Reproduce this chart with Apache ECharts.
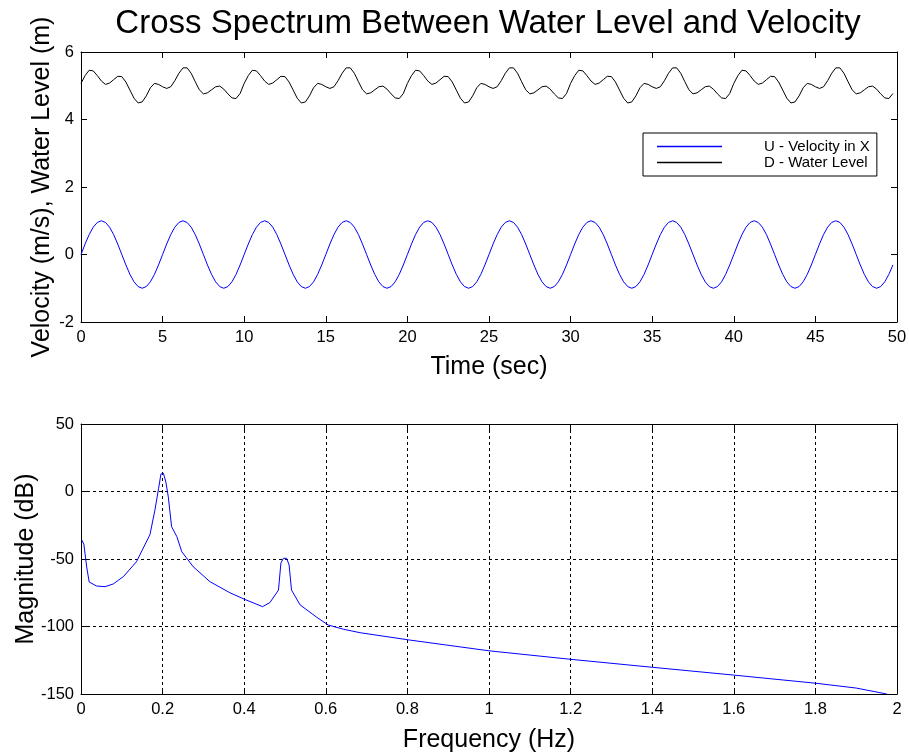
<!DOCTYPE html>
<html><head><meta charset="utf-8">
<script src="https://cdn.jsdelivr.net/npm/echarts@6/dist/echarts.min.js"></script>
<style>html,body{margin:0;padding:0;background:#fff}#c{width:909px;height:753px}</style>
</head><body><div id="c"></div><script>
// Time samples (sec)
const time = [
0,0.25,0.5,0.75,1,1.25,1.5,1.75,2,2.25,2.5,2.75,3,3.25,3.5,3.75,4,4.25,4.5,4.75,
5,5.25,5.5,5.75,6,6.25,6.5,6.75,7,7.25,7.5,7.75,8,8.25,8.5,8.75,9,9.25,9.5,9.75,
10,10.25,10.5,10.75,11,11.25,11.5,11.75,12,12.25,12.5,12.75,13,13.25,13.5,13.75,14,14.25,14.5,14.75,
15,15.25,15.5,15.75,16,16.25,16.5,16.75,17,17.25,17.5,17.75,18,18.25,18.5,18.75,19,19.25,19.5,19.75,
20,20.25,20.5,20.75,21,21.25,21.5,21.75,22,22.25,22.5,22.75,23,23.25,23.5,23.75,24,24.25,24.5,24.75,
25,25.25,25.5,25.75,26,26.25,26.5,26.75,27,27.25,27.5,27.75,28,28.25,28.5,28.75,29,29.25,29.5,29.75,
30,30.25,30.5,30.75,31,31.25,31.5,31.75,32,32.25,32.5,32.75,33,33.25,33.5,33.75,34,34.25,34.5,34.75,
35,35.25,35.5,35.75,36,36.25,36.5,36.75,37,37.25,37.5,37.75,38,38.25,38.5,38.75,39,39.25,39.5,39.75,
40,40.25,40.5,40.75,41,41.25,41.5,41.75,42,42.25,42.5,42.75,43,43.25,43.5,43.75,44,44.25,44.5,44.75,
45,45.25,45.5,45.75,46,46.25,46.5,46.75,47,47.25,47.5,47.75,48,48.25,48.5,48.75,49,49.25,49.5,49.75
];
// U - Velocity in X (m/s)
const velocity = [
0,0.31,0.59,0.81,0.95,1,0.95,0.81,0.59,0.31,0,-0.31,-0.59,-0.81,-0.95,-1,-0.95,-0.81,-0.59,-0.31,
0,0.31,0.59,0.81,0.95,1,0.95,0.81,0.59,0.31,0,-0.31,-0.59,-0.81,-0.95,-1,-0.95,-0.81,-0.59,-0.31,
0,0.31,0.59,0.81,0.95,1,0.95,0.81,0.59,0.31,0,-0.31,-0.59,-0.81,-0.95,-1,-0.95,-0.81,-0.59,-0.31,
0,0.31,0.59,0.81,0.95,1,0.95,0.81,0.59,0.31,0,-0.31,-0.59,-0.81,-0.95,-1,-0.95,-0.81,-0.59,-0.31,
0,0.31,0.59,0.81,0.95,1,0.95,0.81,0.59,0.31,0,-0.31,-0.59,-0.81,-0.95,-1,-0.95,-0.81,-0.59,-0.31,
0,0.31,0.59,0.81,0.95,1,0.95,0.81,0.59,0.31,0,-0.31,-0.59,-0.81,-0.95,-1,-0.95,-0.81,-0.59,-0.31,
0,0.31,0.59,0.81,0.95,1,0.95,0.81,0.59,0.31,0,-0.31,-0.59,-0.81,-0.95,-1,-0.95,-0.81,-0.59,-0.31,
0,0.31,0.59,0.81,0.95,1,0.95,0.81,0.59,0.31,0,-0.31,-0.59,-0.81,-0.95,-1,-0.95,-0.81,-0.59,-0.31,
0,0.31,0.59,0.81,0.95,1,0.95,0.81,0.59,0.31,0,-0.31,-0.59,-0.81,-0.95,-1,-0.95,-0.81,-0.59,-0.31,
0,0.31,0.59,0.81,0.95,1,0.95,0.81,0.59,0.31,0,-0.31,-0.59,-0.81,-0.95,-1,-0.95,-0.81,-0.59,-0.31
];
// D - Water Level (m)
const waterLevel = [
5.07,5.30,5.46,5.44,5.30,5.14,5.04,5.08,5.18,5.28,5.27,5.11,4.87,4.63,4.49,4.52,4.70,4.94,5.07,5.04,
4.97,4.92,4.97,5.15,5.37,5.53,5.53,5.37,5.12,4.88,4.76,4.79,4.88,4.97,4.99,4.90,4.76,4.64,4.62,4.77,
5.07,5.30,5.46,5.44,5.30,5.14,5.04,5.08,5.18,5.28,5.27,5.11,4.87,4.63,4.49,4.52,4.70,4.94,5.07,5.04,
4.97,4.92,4.97,5.15,5.37,5.53,5.53,5.37,5.12,4.88,4.76,4.79,4.88,4.97,4.99,4.90,4.76,4.64,4.62,4.77,
5.07,5.30,5.46,5.44,5.30,5.14,5.04,5.08,5.18,5.28,5.27,5.11,4.87,4.63,4.49,4.52,4.70,4.94,5.07,5.04,
4.97,4.92,4.97,5.15,5.37,5.53,5.53,5.37,5.12,4.88,4.76,4.79,4.88,4.97,4.99,4.90,4.76,4.64,4.62,4.77,
5.07,5.30,5.46,5.44,5.30,5.14,5.04,5.08,5.18,5.28,5.27,5.11,4.87,4.63,4.49,4.52,4.70,4.94,5.07,5.04,
4.97,4.92,4.97,5.15,5.37,5.53,5.53,5.37,5.12,4.88,4.76,4.79,4.88,4.97,4.99,4.90,4.76,4.64,4.62,4.77,
5.07,5.30,5.46,5.44,5.30,5.14,5.04,5.08,5.18,5.28,5.27,5.11,4.87,4.63,4.49,4.52,4.70,4.94,5.07,5.04,
4.97,4.92,4.97,5.15,5.37,5.53,5.53,5.37,5.12,4.88,4.76,4.79,4.88,4.97,4.99,4.90,4.76,4.64,4.62,4.77
];
// Cross spectrum magnitude
const freq = [0.002,0.007,0.014,0.02,0.038,0.059,0.079,0.104,0.136,0.169,0.181,0.19,0.196,0.202,0.208,0.214,0.222,0.235,0.247,0.275,0.316,0.365,0.402,0.445,0.463,0.484,0.49,0.496,0.504,0.51,0.516,0.537,0.578,0.606,0.643,0.684,0.805,1.0,1.2,1.4,1.6,1.8,1.9,1.975];
const magnitude = [-36,-39,-56,-67,-70,-70.5,-68.5,-63,-52,-32,-14,2,13,13.5,7,-4,-26,-33.5,-44.6,-55.7,-66.8,-75,-80,-85.3,-82.3,-73,-53,-49.5,-49.5,-54.4,-73,-84,-93.2,-98.9,-102,-104.6,-110,-118,-124.3,-130.2,-136,-142,-145.6,-150];

const seriesNames = ['U - Velocity in X', 'D - Water Level'];
const titleText = 'Cross Spectrum Between Water Level and Velocity';

const F = '"Liberation Sans", Arial, sans-serif';
function pairs(x, y) { return x.map((v, i) => [v, y[i]]); }

function axis(extra) {
  return Object.assign({
    type: 'value',
    axisLine: { show: true, onZero: false, lineStyle: { color: '#000', width: 1 } },
    axisTick: { show: true, inside: true, length: 6, lineStyle: { color: '#000', width: 1 } },
    axisLabel: { color: '#000', fontSize: 16.5, fontFamily: F, margin: 7 },
    splitLine: { show: false },
    nameMoveOverlap: false,
    nameTextStyle: { color: '#000', fontSize: 25, fontFamily: F }
  }, extra);
}
const dashed = { show: true, lineStyle: { color: '#000', width: 1, type: [3, 3] } };

const chart = echarts.init(document.getElementById('c'), null, { renderer: 'canvas' });
chart.setOption({
  animation: false,
  backgroundColor: '#fff',
  title: {
    text: titleText, left: 483, top: 2, textAlign: 'center',
    textStyle: { fontSize: 33, fontWeight: 'normal', color: '#000', fontFamily: F }
  },
  legend: {
    data: seriesNames, orient: 'vertical', left: 643, top: 133,
    icon: 'rect', itemWidth: 65, itemHeight: 1.5, itemGap: 1,
    padding: [6, 7, 6, 14], borderColor: '#000', borderWidth: 1, backgroundColor: '#fff',
    textStyle: { fontSize: 15, fontFamily: F, color: '#000', padding: [0, 0, 0, 37] }
  },
  grid: [
    { left: 81, top: 52, width: 816, height: 270, outerBoundsMode: 'none', containLabel: false },
    { left: 81, top: 424, width: 816, height: 270, outerBoundsMode: 'none', containLabel: false }
  ],
  xAxis: [
    axis({ gridIndex: 0, position: 'bottom', min: 0, max: 50, interval: 5, name: 'Time (sec)', nameLocation: 'middle', nameGap: 33 }),
    axis({ gridIndex: 0, position: 'top', min: 0, max: 50, interval: 5, axisLabel: { show: false } }),
    axis({ gridIndex: 1, position: 'bottom', min: 0, max: 2, interval: 0.2, name: 'Frequency (Hz)', nameLocation: 'middle', nameGap: 34, splitLine: dashed }),
    axis({ gridIndex: 1, position: 'top', min: 0, max: 2, interval: 0.2, axisLabel: { show: false } })
  ],
  yAxis: [
    axis({ gridIndex: 0, position: 'left', min: -2, max: 6, interval: 2, name: 'Velocity (m/s), Water Level (m)', nameLocation: 'middle', nameGap: 26 }),
    axis({ gridIndex: 0, position: 'right', min: -2, max: 6, interval: 2, axisLabel: { show: false } }),
    axis({ gridIndex: 1, position: 'left', min: -150, max: 50, interval: 50, name: 'Magnitude (dB)', nameLocation: 'middle', nameGap: 42, splitLine: dashed }),
    axis({ gridIndex: 1, position: 'right', min: -150, max: 50, interval: 50, axisLabel: { show: false } })
  ],
  series: [
    { name: seriesNames[0], type: 'line', xAxisIndex: 0, yAxisIndex: 0, data: pairs(time, velocity),
      showSymbol: false, symbol: 'none', color: '#0000ff', lineStyle: { color: '#0000ff', width: 1 } },
    { name: seriesNames[1], type: 'line', xAxisIndex: 0, yAxisIndex: 0, data: pairs(time, waterLevel),
      showSymbol: false, symbol: 'none', color: '#000000', lineStyle: { color: '#000000', width: 1 } },
    { name: 'Cross Spectrum', type: 'line', xAxisIndex: 2, yAxisIndex: 2, data: pairs(freq, magnitude),
      showSymbol: false, symbol: 'none', color: '#0000ff', lineStyle: { color: '#0000ff', width: 1 } }
  ]
});
</script></body></html>
